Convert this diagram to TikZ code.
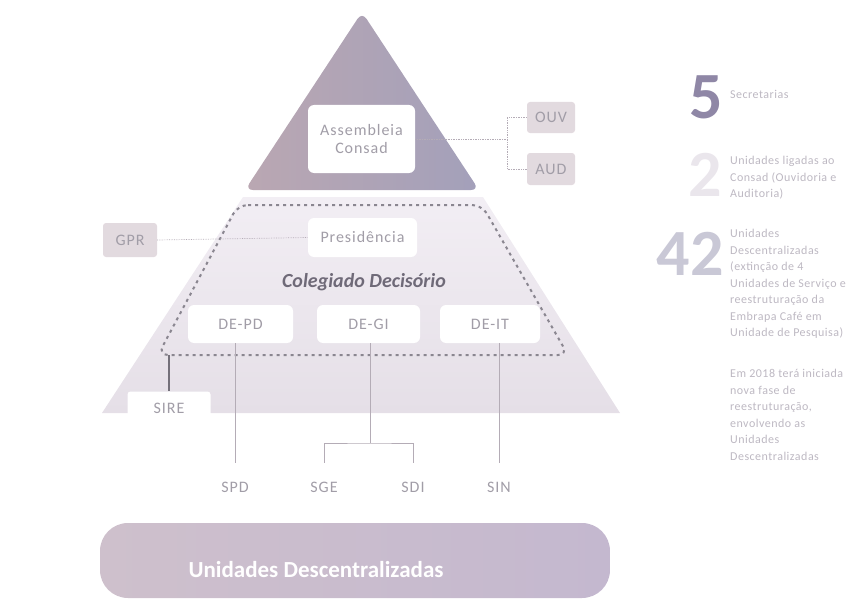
\documentclass[tikz,border=0pt]{standalone}
\usepackage{fontspec}
\setmainfont{Carlito}
\newfontfamily\lblfont{Carlito}[LetterSpace=6]
\newfontfamily\sidefont{Carlito}[LetterSpace=4]
\usetikzlibrary{calc}
\definecolor{labelgray}{HTML}{A19DA7}
\definecolor{darklabel}{HTML}{6F6A78}
\definecolor{conngray}{HTML}{B4ACB6}
\definecolor{dashgray}{HTML}{8A8690}
\definecolor{tagfill}{HTML}{E2DADF}
\definecolor{sidetext}{HTML}{BDB8C2}
\definecolor{fivecol}{HTML}{8F87A6}
\definecolor{twocol}{HTML}{EAE6EC}
\definecolor{fortytwocol}{HTML}{C9C8D6}
\definecolor{traptop}{HTML}{F2EEF4}
\definecolor{trapbot}{HTML}{E5DFE7}
\definecolor{triL}{HTML}{BAA7B2}
\definecolor{triR}{HTML}{A3A0BA}
\definecolor{barL}{HTML}{CEC0CC}
\definecolor{barR}{HTML}{C4B8CF}
\definecolor{sirecol}{HTML}{74707A}
\tikzset{
  wbox/.style={fill=white, rounded corners=6pt, text=labelgray, inner sep=0pt,
    font=\lblfont\fontsize{16}{18}\selectfont, align=center},
  tagbox/.style={fill=tagfill, rounded corners=3pt, text=labelgray, inner sep=0pt,
    font=\lblfont\fontsize{16}{18}\selectfont},
  plainlbl/.style={text=labelgray, inner sep=0pt, minimum height=48pt,
    font=\lblfont\fontsize{16}{18}\selectfont},
  conn/.style={draw=conngray, line width=0.8pt},
  dotconn/.style={draw=conngray, line width=0.7pt, densely dotted},
  sidelbl/.style={text=sidetext, inner sep=0pt, anchor=north west, align=left,
    font=\sidefont\fontsize{12}{16.5}\selectfont},
  bignum/.style={inner sep=0pt, font=\fontsize{66}{66}\selectfont\bfseries},
}
\begin{document}
\begin{tikzpicture}[x=1pt,y=-1pt]
\useasboundingbox (0,0) rectangle (855,602);
% lower trapezoid background
\shade[top color=traptop, bottom color=trapbot]
  (243,197) -- (483,197) -- (620,413) -- (102,413) -- cycle;
% top triangle
\shade[left color=triL, right color=triR, rounded corners=8pt]
  (362,12) -- (479,190) -- (245,190) -- cycle;
% dashed Colegiado outline
\draw[dashgray, line width=2pt, dash pattern=on 3pt off 4pt, rounded corners=10pt]
  (238,205) -- (482,205) -- (568,355) -- (158,355) -- cycle;
% bottom bar
\shade[left color=barL, right color=barR, rounded corners=28pt]
  (100,523) rectangle (610,598);
\node[text=white, font=\fontsize{23}{26}\selectfont\bfseries] (ud) at (316,570) {Unidades Descentralizadas};

% boxes
\node[wbox, minimum width=107pt, minimum height=68pt] (asm) at (361.5,139) {Assembleia\\Consad};
\node[tagbox, minimum width=48pt, minimum height=31pt] (ouv) at (551,117.5) {OUV};
\node[tagbox, minimum width=48pt, minimum height=32pt] (aud) at (551,169) {AUD};
\node[wbox, minimum width=109pt, minimum height=39pt] (pres) at (362.5,237.5) {Presidência};
\node[tagbox, minimum width=54pt, minimum height=34pt] (gpr) at (130,240) {GPR};
\node[text=darklabel, font=\fontsize{20}{23}\selectfont\bfseries\itshape] (col) at (364,282) {Colegiado Decisório};
\node[wbox, minimum width=105pt, minimum height=38pt] (depd) at (240.5,324) {DE-PD};
\node[wbox, minimum width=103pt, minimum height=38pt] (degi) at (368.5,324) {DE-GI};
\node[wbox, minimum width=100pt, minimum height=38pt] (deit) at (490,324) {DE-IT};
\node[wbox, rounded corners=3pt, minimum width=83pt, minimum height=33pt] (sire) at (169,408) {SIRE};
\node[plainlbl] (spd) at (235,487) {SPD};
\node[plainlbl] (sge) at (324,487) {SGE};
\node[plainlbl] (sdi) at (413,487) {SDI};
\node[plainlbl] (sin) at (499,487) {SIN};

% connectors
\draw[dotconn] (asm.east) -- ++(92,0) coordinate (jr);
\draw[dotconn] (ouv.west) -| (jr) |- (aud.west);
\draw[dotconn] (gpr.east) -- (pres.west);
\coordinate (dashbot) at (169,355);
\draw[sirecol, line width=2pt] (dashbot) -- (sire.north);
\draw[conn] (spd.north |- depd.south) -- (spd.north);
\coordinate (jg) at (370,443);
\draw[conn] (jg |- degi.south) -- (jg);
\draw[conn] (sge.north) |- (jg) -| (sdi.north);
\draw[conn] (sin.north |- deit.south) -- (sin.north);

% right column
\node[bignum, text=fivecol] (n5) at (706,97) {5};
\node[sidelbl, anchor=west] (t5) at (730,94) {Secretarias};
\node[bignum, text=twocol] (n2) at (705,175) {2};
\node[sidelbl] (t2) at (730,156) {Unidades ligadas ao\\Consad (Ouvidoria e\\Auditoria)};
\node[bignum, text=fortytwocol] (n42) at (690,254) {42};
\node[sidelbl] (t42) at (730,229) {Unidades\\Descentralizadas\\(extinção de 4\\Unidades de Serviço e\\reestruturação da\\Embrapa Café em\\Unidade de Pesquisa)};
\node[sidelbl] (t18) at (730,369) {Em 2018 terá iniciada\\nova fase de\\reestruturação,\\envolvendo as\\Unidades\\Descentralizadas};
\end{tikzpicture}
\end{document}
